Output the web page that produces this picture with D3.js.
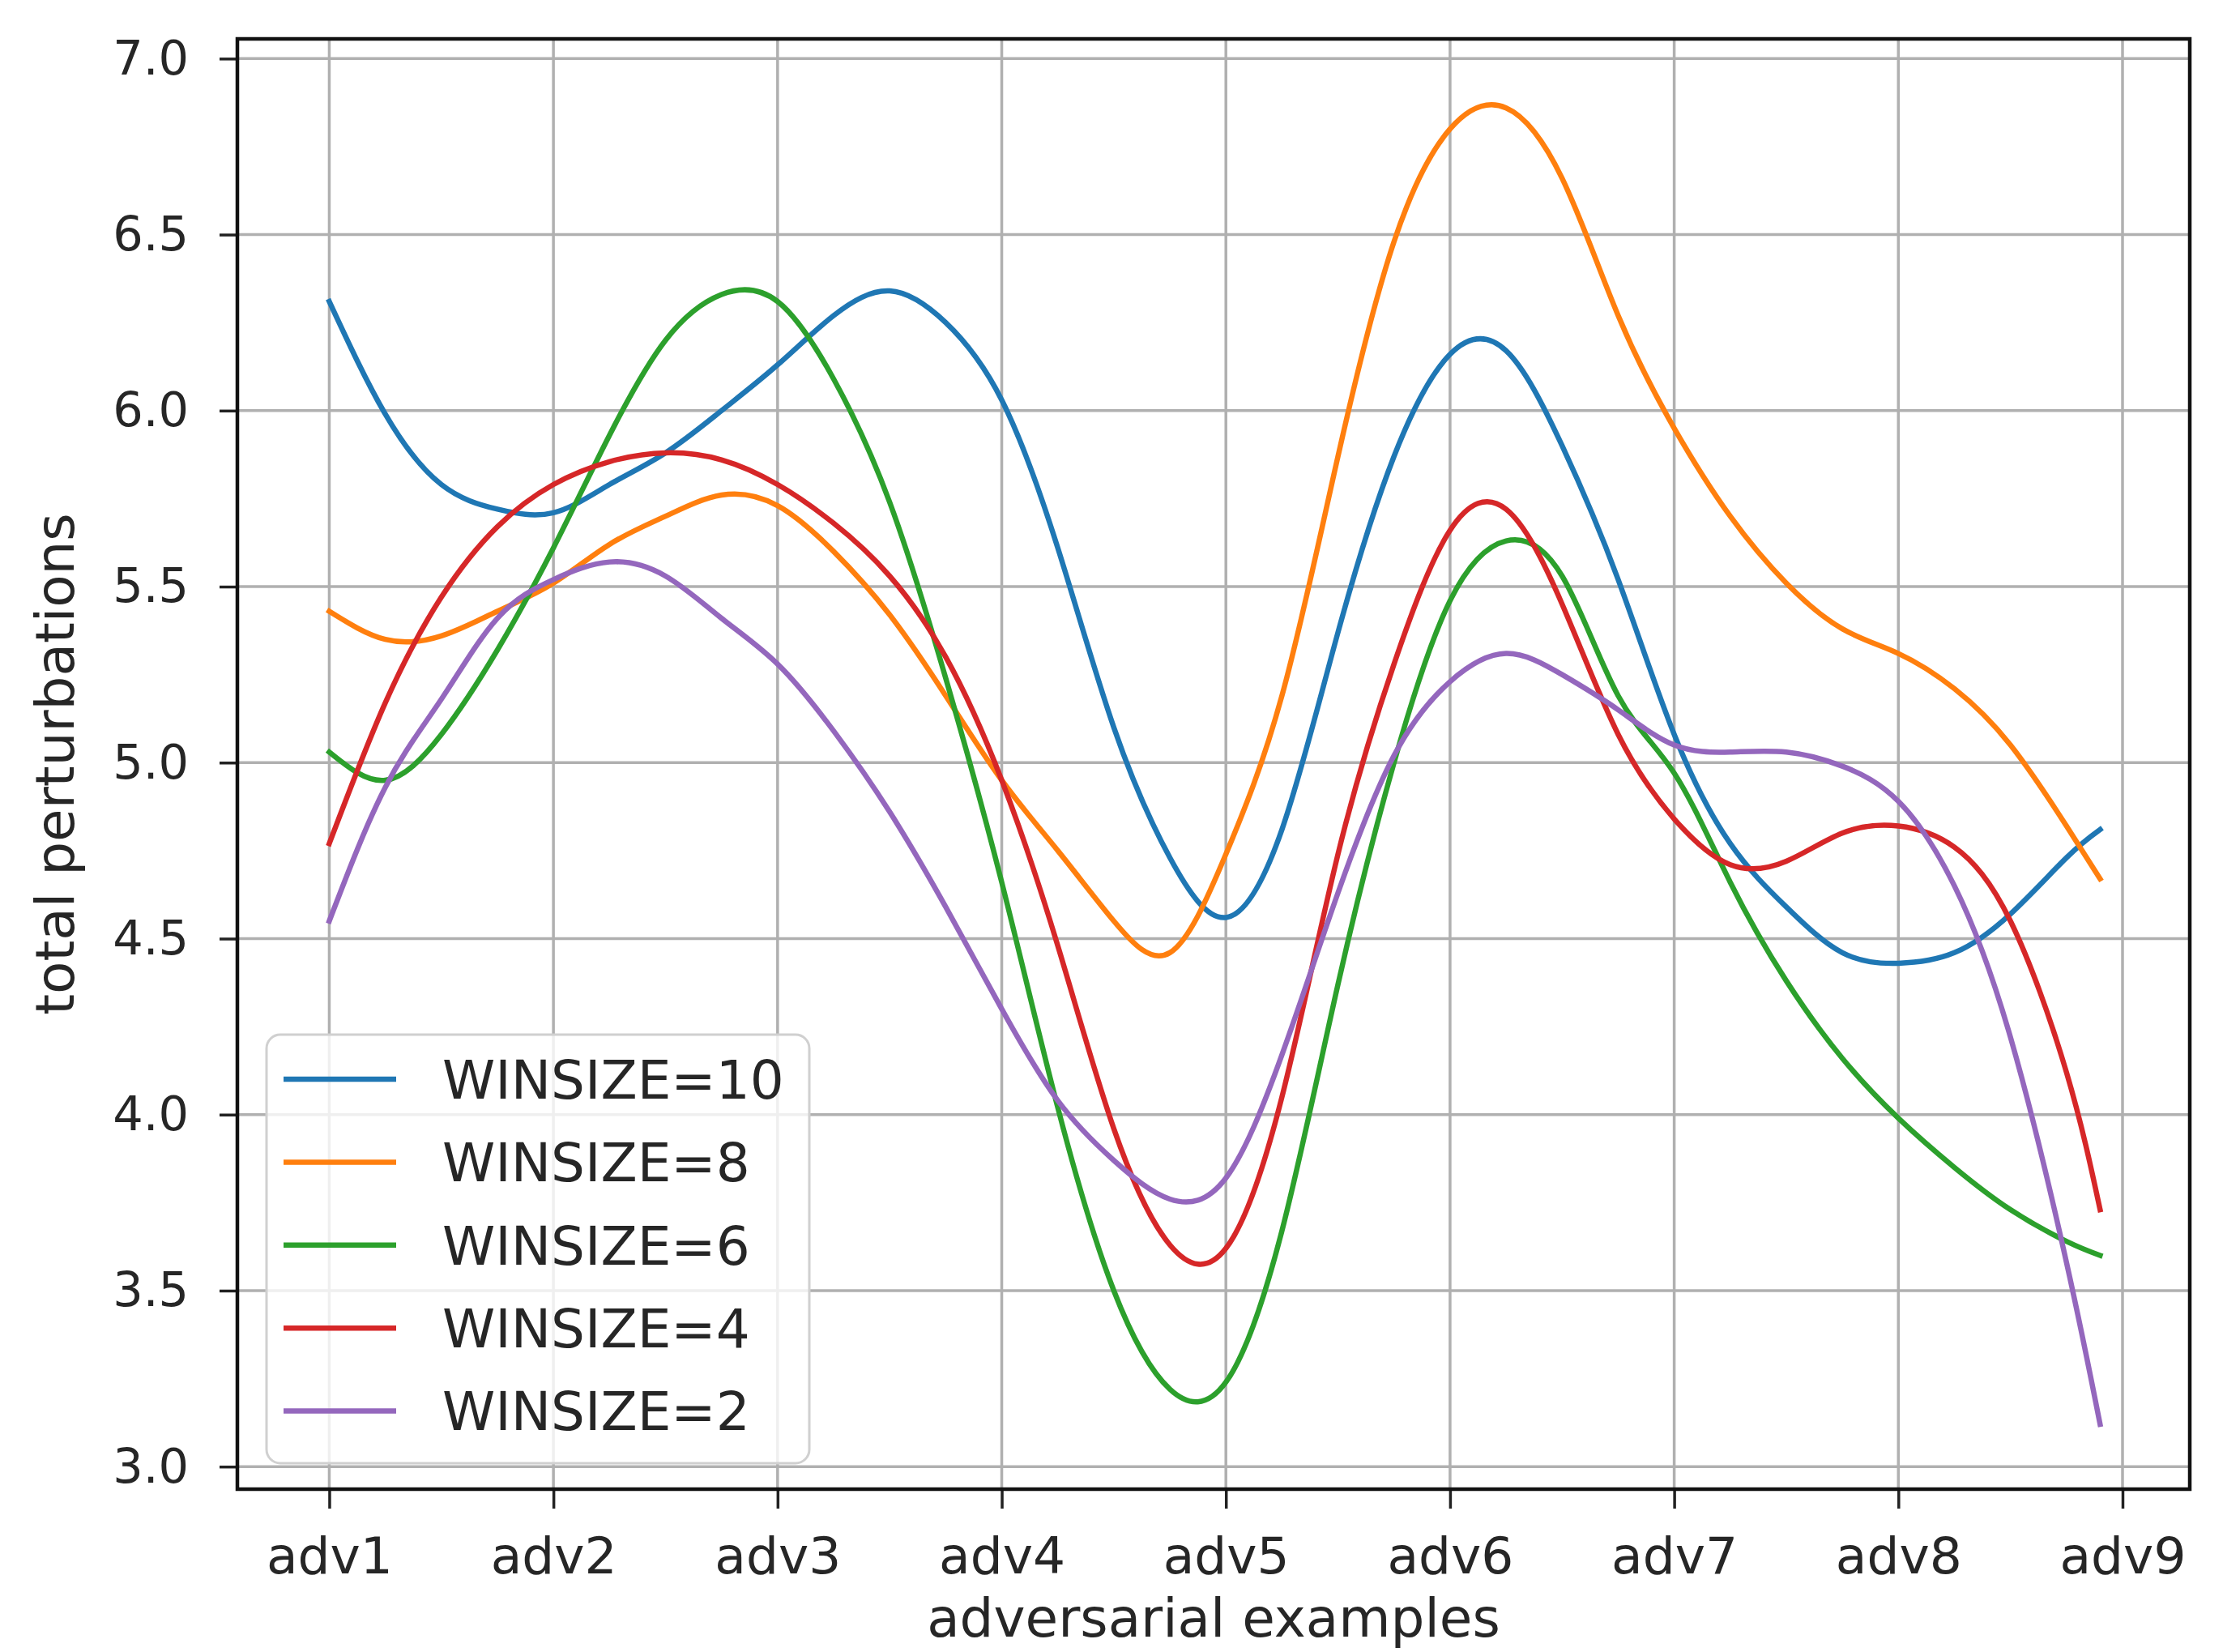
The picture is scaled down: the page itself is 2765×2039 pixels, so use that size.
<!DOCTYPE html>
<html>
<head>
<meta charset="utf-8">
<script src="https://cdn.jsdelivr.net/npm/d3@7"></script>
<style>
  body { margin: 0; background: #fff; }
  svg { display: block; font-family: "DejaVu Sans", sans-serif; }
</style>
</head>
<body>
<div id="chart"></div>
<script>
// x categories (one tick per adversarial example)
var categories = ["adv1", "adv2", "adv3", "adv4", "adv5", "adv6", "adv7", "adv8", "adv9"];
var yTicks = [3.0, 3.5, 4.0, 4.5, 5.0, 5.5, 6.0, 6.5, 7.0];

// sample positions along the smoothed curves (0 = adv1)
var xs = [0, 0.25, 0.5, 0.75, 1, 1.25, 1.5, 1.75, 2, 2.25, 2.5, 2.75, 3, 3.25, 3.5, 3.75,
          4, 4.25, 4.5, 4.75, 5, 5.25, 5.5, 5.75, 6, 6.25, 6.5, 6.75, 7, 7.25, 7.5, 7.75, 7.9];

var seriesNames = ["WINSIZE=10", "WINSIZE=8", "WINSIZE=6", "WINSIZE=4", "WINSIZE=2"];
var seriesColors = ["#1f77b4", "#ff7f0e", "#2ca02c", "#d62728", "#9467bd"];

var win10 = [6.31, 5.99, 5.79, 5.72, 5.71, 5.79, 5.88, 6.00, 6.13, 6.27, 6.34, 6.25, 6.03, 5.61, 5.10, 4.73,
             4.56, 4.81, 5.37, 5.87, 6.16, 6.17, 5.90, 5.52, 5.08, 4.77, 4.59, 4.46, 4.43, 4.46, 4.57, 4.73, 4.81];
var win8 = [5.43, 5.35, 5.36, 5.43, 5.51, 5.62, 5.70, 5.76, 5.73, 5.60, 5.42, 5.19, 4.95, 4.75, 4.55, 4.46,
            4.74, 5.19, 5.87, 6.48, 6.80, 6.86, 6.66, 6.27, 5.95, 5.70, 5.51, 5.38, 5.31, 5.21, 5.05, 4.82, 4.67];
var win6 = [5.03, 4.95, 5.08, 5.32, 5.61, 5.93, 6.20, 6.33, 6.31, 6.09, 5.74, 5.24, 4.66, 4.02, 3.50, 3.22,
            3.24, 3.67, 4.37, 5.00, 5.46, 5.63, 5.53, 5.19, 4.97, 4.66, 4.38, 4.16, 3.99, 3.85, 3.73, 3.64, 3.60];
var win4 = [4.77, 5.17, 5.47, 5.67, 5.79, 5.855, 5.88, 5.86, 5.79, 5.68, 5.53, 5.30, 4.95, 4.48, 3.96, 3.63,
            3.62, 4.05, 4.74, 5.28, 5.66, 5.72, 5.45, 5.08, 4.84, 4.71, 4.72, 4.80, 4.82, 4.76, 4.55, 4.12, 3.73];
var win2 = [4.55, 4.93, 5.18, 5.41, 5.52, 5.57, 5.53, 5.41, 5.28, 5.09, 4.86, 4.59, 4.30, 4.04, 3.87, 3.76,
            3.82, 4.17, 4.63, 5.02, 5.23, 5.31, 5.25, 5.15, 5.05, 5.03, 5.03, 4.99, 4.89, 4.65, 4.22, 3.58, 3.12];

var seriesValues = [win10, win8, win6, win4, win2];

var svgWidth = 2765;
var svgHeight = 2039;

var margin = { top: 48, right: 62, bottom: 201, left: 293 };
var width = svgWidth - margin.left - margin.right;
var height = svgHeight - margin.top - margin.bottom;

var svg = d3.select("#chart")
    .append("svg")
    .attr("width", svgWidth)
    .attr("height", svgHeight);

svg.append("rect")
    .attr("width", svgWidth)
    .attr("height", svgHeight)
    .attr("fill", "#fff");

var chartGroup = svg.append("g")
    .attr("transform", `translate(${margin.left}, ${margin.top})`);

// scales
var xScale = d3.scaleLinear()
    .domain([-0.41, 8.30])
    .range([0, width]);

var yScale = d3.scaleLinear()
    .domain([2.936, 7.056])
    .range([height, 0]);

// grid
chartGroup.append("g")
    .selectAll("line.vgrid")
    .data(d3.range(categories.length))
    .enter()
    .append("line")
    .attr("x1", d => xScale(d))
    .attr("x2", d => xScale(d))
    .attr("y1", 0)
    .attr("y2", height)
    .attr("stroke", "#b0b0b0")
    .attr("stroke-width", 3.5);

chartGroup.append("g")
    .selectAll("line.hgrid")
    .data(yTicks)
    .enter()
    .append("line")
    .attr("x1", 0)
    .attr("x2", width)
    .attr("y1", d => yScale(d))
    .attr("y2", d => yScale(d))
    .attr("stroke", "#b0b0b0")
    .attr("stroke-width", 3.5);

// lines
var line = d3.line()
    .x((d, i) => xScale(xs[i]))
    .y(d => yScale(d))
    .curve(d3.curveNatural);

seriesValues.forEach(function(vals, k) {
    chartGroup.append("path")
        .datum(vals)
        .attr("d", line)
        .attr("fill", "none")
        .attr("stroke", seriesColors[k])
        .attr("stroke-width", 6.5)
        .attr("stroke-linecap", "square")
        .attr("stroke-linejoin", "round");
});

// axes
var bottomAxis = d3.axisBottom(xScale)
    .tickValues(d3.range(categories.length))
    .tickFormat(i => categories[i])
    .tickSize(24)
    .tickPadding(35);

var leftAxis = d3.axisLeft(yScale)
    .tickValues(yTicks)
    .tickFormat(d3.format(".1f"))
    .tickSize(22)
    .tickPadding(38);

var xAxis = chartGroup.append("g")
    .attr("transform", `translate(0, ${height})`)
    .call(bottomAxis);

var yAxis = chartGroup.append("g")
    .call(leftAxis);

[xAxis, yAxis].forEach(function(ax) {
    ax.select(".domain").remove();
    ax.selectAll(".tick line").attr("stroke", "#222").attr("stroke-width", 3.5);
    ax.selectAll(".tick text")
        .attr("fill", "#262626")
        .style("font-family", "'DejaVu Sans', sans-serif");
});
xAxis.selectAll(".tick text").style("font-size", "63px");
yAxis.selectAll(".tick text").style("font-size", "59px");

// spines
chartGroup.append("rect")
    .attr("x", 0)
    .attr("y", 0)
    .attr("width", width)
    .attr("height", height)
    .attr("fill", "none")
    .attr("stroke", "#111")
    .attr("stroke-width", 4.5);

// legend
var legend = chartGroup.append("g")
    .attr("transform", "translate(36, 1229)");

legend.append("rect")
    .attr("x", 0)
    .attr("y", 0)
    .attr("width", 670)
    .attr("height", 529)
    .attr("rx", 17)
    .attr("fill", "#fff")
    .attr("fill-opacity", 0.8)
    .attr("stroke", "#d0d0d0")
    .attr("stroke-width", 3);

var legendRows = legend.selectAll("g.row")
    .data(seriesNames)
    .enter()
    .append("g")
    .attr("transform", (d, i) => `translate(0, ${55 + i * 102.4})`);

legendRows.append("line")
    .attr("x1", 21)
    .attr("x2", 160)
    .attr("y1", 0)
    .attr("y2", 0)
    .attr("stroke", (d, i) => seriesColors[i])
    .attr("stroke-width", 6.5);

legendRows.append("text")
    .attr("x", 217)
    .attr("y", 0)
    .attr("dy", "0.36em")
    .attr("fill", "#262626")
    .style("font-size", "66px")
    .text(d => d);

// axis labels
svg.append("text")
    .attr("x", margin.left + width / 2)
    .attr("y", 2020)
    .attr("text-anchor", "middle")
    .attr("fill", "#262626")
    .style("font-size", "66px")
    .text("adversarial examples");

svg.append("text")
    .attr("transform", `translate(91, ${margin.top + height / 2}) rotate(-90)`)
    .attr("text-anchor", "middle")
    .attr("fill", "#262626")
    .style("font-size", "66px")
    .text("total perturbations");
</script>
</body>
</html>
